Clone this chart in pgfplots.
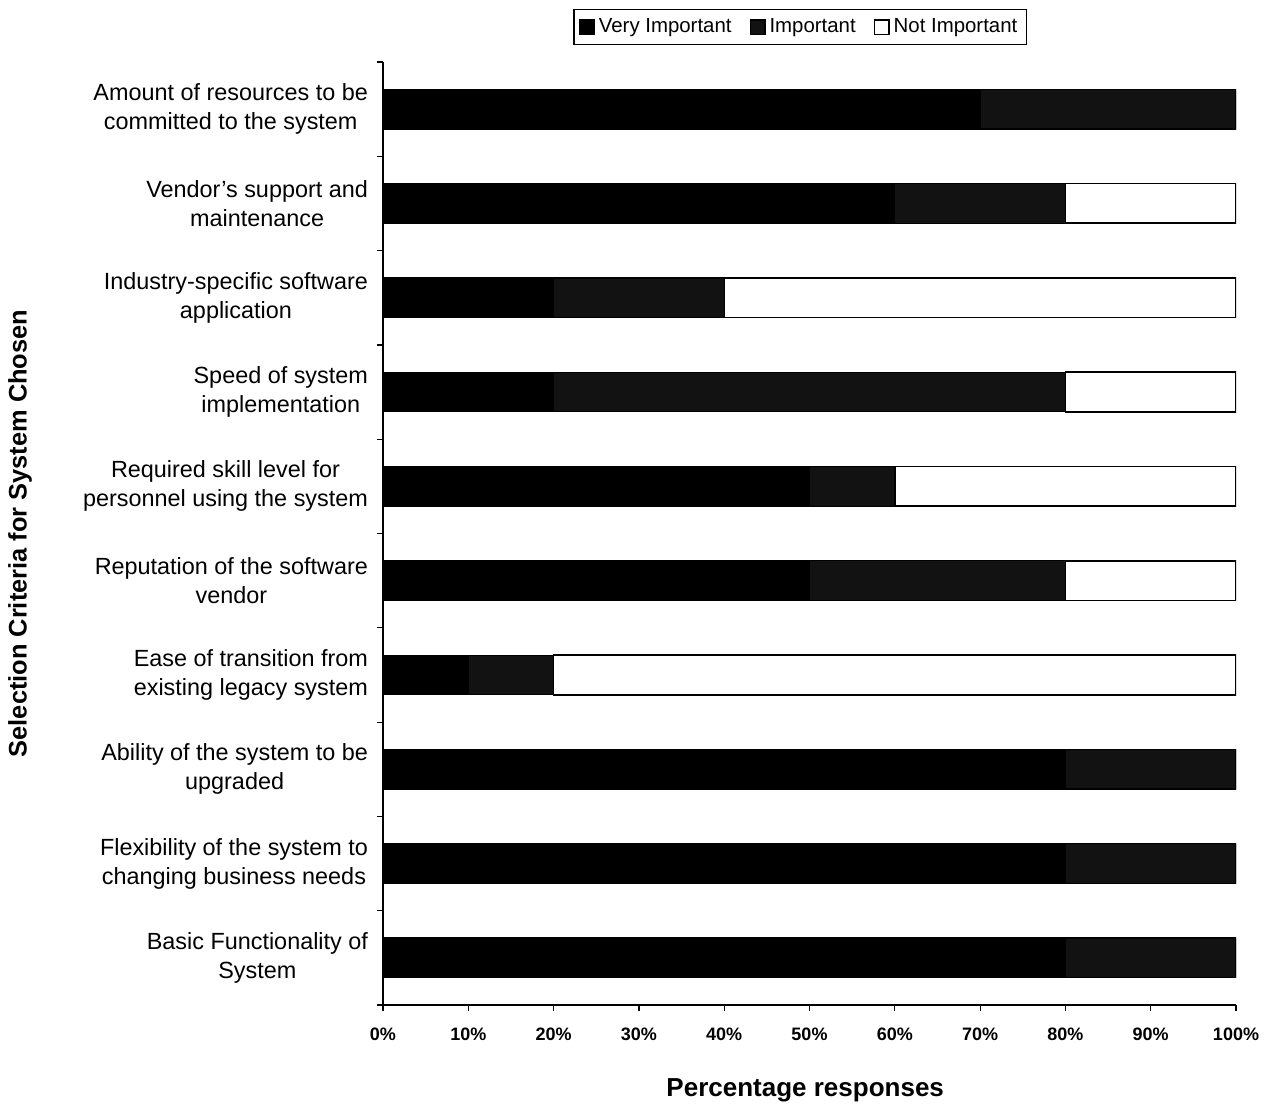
\documentclass[border=0pt]{standalone}
\usepackage{pgfplots}
\pgfplotsset{compat=1.18}
\usepackage{fontspec}
\setmainfont{Liberation Sans}
\begin{document}
\begin{tikzpicture}
\path[use as bounding box] (-191.5pt,-51pt) rectangle (442pt,502.5pt);
\begin{axis}[
  scale only axis, width=426.5pt, height=471.5pt,
  xbar stacked, bar width=0.42,
  xmin=0, xmax=100, ymin=-0.5, ymax=9.5, y dir=reverse,
  axis lines=left, axis line style={-, line width=0.8pt},
  tick align=outside, major tick length=3pt,
  tick style={black, line width=0.6pt},
  /pgf/number format/assume math mode=true,
  xtick={0,10,...,100},
  xticklabel={\pgfmathprintnumber{\tick}\%},
  xticklabel style={font=\bfseries\fontsize{9}{10}\selectfont, yshift=-5pt},
  ytick={-0.5,0.5,...,9.5}, yticklabels={},
  extra y ticks={0,1,2,3,4,5,6,7,8,9},
  extra y tick labels={
    {Amount of resources to be\\committed to the system},
    {Vendor's support and\\maintenance},
    {Industry-specific software\\application},
    {Speed of system\\implementation},
    {Required skill level for\\personnel using the system},
    {Reputation of the software\\vendor},
    {Ease of transition from\\existing legacy system},
    {Ability of the system to be\\upgraded},
    {Flexibility of the system to\\changing business needs},
    {Basic Functionality of\\System}},
  extra y tick style={major tick length=0pt},
  yticklabel style={align=center, font=\fontsize{11.7}{14.5}\selectfont, xshift=-4pt},
  xlabel={Percentage responses},
  xlabel style={at={(axis description cs:0.495,-0.090)}, anchor=center, font=\bfseries\fontsize{13}{15}\selectfont},
  ylabel={Selection Criteria for System Chosen},
  ylabel style={at={(axis description cs:-0.4256,0.5)}, anchor=center, rotate=0, font=\bfseries\fontsize{12.7}{15}\selectfont},
  legend style={at={(0.489,1.037)}, anchor=center, legend columns=3, draw=black, line width=0.8pt,
    font=\fontsize{10.2}{11}\selectfont, inner sep=2.5pt,
    /tikz/every even column/.append style={column sep=7pt}},
  legend image code/.code={\draw[#1, line width=0.8pt] (0pt,-3.6pt) rectangle (7.2pt,3.6pt);},
]
\addplot[fill=black, draw=black, line width=0.6pt] coordinates {(70,0) (60,1) (20,2) (20,3) (50,4) (50,5) (10,6) (80,7) (80,8) (80,9)};
\addplot[fill=black!93, draw=black, line width=0.6pt] coordinates {(30,0) (20,1) (20,2) (60,3) (10,4) (30,5) (10,6) (20,7) (20,8) (20,9)};
\addplot[fill=white, draw=black, line width=0.8pt] coordinates {(0,0) (20,1) (60,2) (20,3) (40,4) (20,5) (80,6) (0,7) (0,8) (0,9)};
\legend{Very Important, Important, Not Important}
\end{axis}
\end{tikzpicture}
\end{document}
